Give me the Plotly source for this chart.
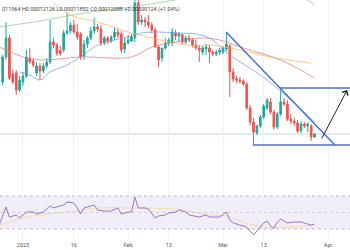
import pandas as pd
import plotly.graph_objects as go

BASE = pd.Timestamp("2023-01-01")
def day(d):
    return BASE + pd.Timedelta(days=d)

# Daily candles 2022-12-26 .. 2023-03-28, prices in units of 1e-7
dates = pd.date_range("2022-12-26", "2023-03-28", freq="D")
open_e7 = [1422, 1522, 1598, 1454, 1458, 1390, 1422, 1446, 1518, 1506,
           1458, 1486, 1466, 1486, 1502, 1582, 1570, 1548, 1550, 1618,
           1626, 1650, 1622, 1614, 1526, 1574, 1598, 1626, 1642, 1634,
           1578, 1598, 1586, 1602, 1622, 1614, 1554, 1578, 1586, 1598,
           1738, 1662, 1670, 1662, 1650, 1630, 1562, 1518, 1558, 1578,
           1582, 1618, 1606, 1610, 1582, 1598, 1590, 1570, 1558, 1542,
           1554, 1558, 1542, 1534, 1542, 1542, 1554, 1566, 1462, 1434,
           1430, 1426, 1414, 1318, 1262, 1218, 1246, 1282, 1318, 1342,
           1302, 1242, 1294, 1342, 1334, 1274, 1266, 1258, 1226, 1254,
           1246, 1246, 1202]
high_e7 = [1530, 1662, 1610, 1470, 1470, 1446, 1462, 1550, 1558, 1518,
           1502, 1498, 1498, 1518, 1670, 1598, 1578, 1566, 1630, 1702,
           1662, 1670, 1654, 1622, 1590, 1606, 1642, 1678, 1654, 1650,
           1606, 1606, 1610, 1638, 1634, 1626, 1598, 1610, 1614, 1758,
           1750, 1690, 1682, 1690, 1662, 1642, 1570, 1558, 1598, 1598,
           1638, 1630, 1622, 1618, 1606, 1610, 1598, 1590, 1570, 1566,
           1574, 1570, 1550, 1550, 1558, 1566, 1622, 1574, 1478, 1446,
           1442, 1434, 1422, 1330, 1278, 1250, 1290, 1334, 1358, 1358,
           1310, 1302, 1398, 1358, 1350, 1294, 1278, 1270, 1266, 1262,
           1262, 1254, 1218]
low_e7 = [1410, 1510, 1430, 1414, 1370, 1382, 1406, 1438, 1494, 1482,
          1446, 1430, 1458, 1478, 1494, 1558, 1526, 1526, 1542, 1610,
          1618, 1614, 1590, 1510, 1510, 1558, 1590, 1614, 1622, 1566,
          1570, 1574, 1578, 1590, 1598, 1538, 1538, 1574, 1582, 1582,
          1650, 1650, 1642, 1638, 1618, 1558, 1482, 1502, 1550, 1566,
          1566, 1590, 1582, 1574, 1574, 1582, 1562, 1550, 1502, 1530,
          1530, 1498, 1526, 1526, 1530, 1534, 1546, 1362, 1422, 1418,
          1414, 1406, 1310, 1250, 1170, 1210, 1238, 1274, 1310, 1294,
          1230, 1234, 1286, 1326, 1266, 1254, 1246, 1218, 1218, 1238,
          1222, 1186, 1198]
close_e7 = [1522, 1598, 1438, 1422, 1390, 1430, 1446, 1522, 1502, 1490,
            1486, 1466, 1486, 1502, 1582, 1570, 1538, 1536, 1618, 1626,
            1650, 1622, 1602, 1522, 1574, 1598, 1626, 1642, 1634, 1578,
            1598, 1586, 1602, 1622, 1610, 1550, 1578, 1590, 1602, 1738,
            1662, 1670, 1662, 1650, 1630, 1562, 1510, 1558, 1578, 1590,
            1622, 1606, 1614, 1582, 1598, 1590, 1570, 1558, 1550, 1558,
            1562, 1542, 1534, 1542, 1550, 1558, 1574, 1462, 1434, 1430,
            1426, 1414, 1318, 1262, 1222, 1246, 1282, 1326, 1350, 1302,
            1242, 1294, 1342, 1334, 1274, 1266, 1258, 1226, 1254, 1246,
            1254, 1202, 1214]

# Moving averages (day offset from 2023-01-01, price e-7)
ma_blue_day = [-1, 2, 5, 8, 13, 17, 22, 27, 32, 35, 40, 45, 51, 55, 61, 70, 79, 86]
ma_blue_val = [1462, 1450, 1430, 1462, 1490, 1522, 1570, 1590, 1606, 1618, 1622, 1618, 1614, 1598, 1530, 1450, 1350, 1262]
ma_red_day = [-7, 1, 6, 17, 32, 38, 45, 52, 58, 65, 76, 86]
ma_red_val = [1562, 1518, 1510, 1522, 1522, 1562, 1582, 1598, 1590, 1558, 1510, 1438]
ma_orange_day = [9, 14, 23, 32, 45, 51, 55, 64, 73, 85]
ma_orange_val = [1738, 1690, 1658, 1618, 1578, 1566, 1570, 1550, 1522, 1498]
ma_green_day = [-7, 5, 18, 32, 43, 61, 79, 84, 86]
ma_green_val = [1642, 1666, 1698, 1722, 1746, 1782, 1774, 1750, 1730]

# RSI
rsi_day = [-7, -5, -4, -2, -1, 1, 3, 4, 6, 8, 9, 12, 13, 15, 16, 17, 18, 21, 22, 24,
           26, 28, 29, 31, 32, 33, 34, 36, 37, 39, 40, 42, 43, 45, 46, 48, 49, 52, 54, 55,
           58, 60, 61, 62, 64, 66, 68, 69, 70, 71, 72, 73, 74, 75, 76, 77, 78, 80, 82, 83,
           85, 86]
rsi_val = [34.8, 56.7, 44.5, 47.0, 43.3, 50.6, 50.6, 48.2, 50.6, 57.9, 55.5, 59.1, 62.7, 61.5, 55.5,
           48.2, 55.5, 59.1, 53.0, 51.8, 51.8, 55.5, 48.2, 50.6, 50.6, 68.8, 55.5, 55.5, 54.2, 43.3,
           45.8, 47.0, 49.4, 50.6, 53.0, 50.6, 47.0, 44.5, 47.0, 44.5, 44.5, 50.6, 40.9, 37.5, 34.8,
           32.4, 22.7, 27.6, 32.0, 37.3, 39.7, 34.0, 31.0, 38.5, 42.0, 40.0, 37.3, 38.5, 38.5, 37.3,
           34.8, 36.1]
rsima_day = [-7, -1, 5, 13, 23, 32, 45, 55, 60, 65, 71, 77, 86]
rsima_val = [34.8, 42.1, 47.0, 50.6, 55.5, 55.5, 54.0, 47.0, 45.8, 38.5, 32.4, 32.4, 34.8]

# Drawings (day offset, price e-7)
diag_line = [(59.9, 1622), (92.0, 1170)]
top_line = [(75.8, 1398), (97.0, 1398)]
bottom_line = [(67.8, 1170), (97.0, 1170)]
arrow = [(87.9, 1190), (95.6, 1390)]

tick_days = [0, 15, 31, 43, 59, 71, 90]
tick_text = ["2023", "16", "Feb", "13", "Mar", "13", "Apr"]
header = "011964 H0.00012126 L0.00011852 C0.00012088 +0.00000124 (+1.04%)"

S = 1e-7
sc = lambda arr: [v * S for v in arr]

fig = go.Figure()
fig.add_trace(go.Candlestick(
    x=dates, open=sc(open_e7), high=sc(high_e7), low=sc(low_e7), close=sc(close_e7),
    increasing=dict(line=dict(color="#26a69a", width=1), fillcolor="#26a69a"),
    decreasing=dict(line=dict(color="#ef5350", width=1), fillcolor="#ef5350"),
    whiskerwidth=0, xaxis="x", yaxis="y"))

for dd, vv, col in [(ma_green_day, ma_green_val, "rgba(150,200,150,0.75)"),
                    (ma_orange_day, ma_orange_val, "rgba(255,180,90,0.75)"),
                    (ma_red_day, ma_red_val, "rgba(230,120,120,0.75)"),
                    (ma_blue_day, ma_blue_val, "rgba(110,150,230,0.7)")]:
    fig.add_trace(go.Scatter(x=[day(d) for d in dd], y=sc(vv), mode="lines",
                             line=dict(color=col, width=1, shape="spline"),
                             xaxis="x", yaxis="y", hoverinfo="skip"))

blue = "#4a6fd8"
for seg in [diag_line, top_line, bottom_line]:
    fig.add_trace(go.Scatter(x=[day(p[0]) for p in seg], y=[p[1] * S for p in seg],
                             mode="lines", line=dict(color=blue, width=1.5),
                             xaxis="x", yaxis="y", hoverinfo="skip"))

fig.add_trace(go.Scatter(x=[day(d) for d in rsima_day], y=rsima_val, mode="lines",
                         line=dict(color="rgba(245,205,120,0.6)", width=1, shape="spline"),
                         xaxis="x2", yaxis="y2"))
fig.add_trace(go.Scatter(x=[day(d) for d in rsi_day], y=rsi_val, mode="lines",
                         line=dict(color="#8e7cc3", width=1),
                         xaxis="x2", yaxis="y2"))

xr = [day(-6.78), day(96.46)]
tickvals = [day(d) for d in tick_days]
grid = "#eef0f5"
main_dom = [0.2083, 1]

fig.update_layout(
    width=350, height=250, margin=dict(l=0, r=0, t=0, b=10),
    paper_bgcolor="white", plot_bgcolor="white", showlegend=False,
    font=dict(family="Roboto", color="#555"),
    xaxis=dict(domain=[0, 1], anchor="y", range=xr, showticklabels=False,
               rangeslider=dict(visible=False), tickvals=tickvals, showgrid=True,
               gridcolor=grid, zeroline=False, showline=False, ticks=""),
    yaxis=dict(domain=main_dom, range=[990 * S, 1750 * S], showticklabels=False,
               showgrid=False, zeroline=False),
    xaxis2=dict(domain=[0, 1], anchor="y2", range=xr, matches="x", tickvals=tickvals,
                ticktext=tick_text, showgrid=True, gridcolor=grid, zeroline=False,
                ticks="", tickfont=dict(size=5.5, color="#555")),
    yaxis2=dict(domain=[0, main_dom[0]], range=[16.67, 77.27], showticklabels=False,
                showgrid=False, zeroline=False),
    shapes=[
        dict(type="rect", xref="paper", x0=0, x1=1, yref="y2", y0=30, y1=70,
             fillcolor="rgba(126,87,194,0.1)", line=dict(width=0), layer="below"),
        dict(type="line", xref="paper", x0=0, x1=1, yref="y2", y0=70, y1=70,
             line=dict(color="rgba(120,123,134,0.45)", width=1, dash="dot")),
        dict(type="line", xref="paper", x0=0, x1=1, yref="y2", y0=50, y1=50,
             line=dict(color="rgba(120,123,134,0.25)", width=1, dash="dot")),
        dict(type="line", xref="paper", x0=0, x1=1, yref="y2", y0=30, y1=30,
             line=dict(color="rgba(120,123,134,0.45)", width=1, dash="dot")),
        dict(type="line", xref="paper", x0=0, x1=1, yref="y", y0=close_e7[-1] * S,
             y1=close_e7[-1] * S, line=dict(color="rgba(38,166,154,0.35)", width=1),
             layer="below"),
    ],
    annotations=[
        dict(x=day(arrow[1][0]), y=arrow[1][1] * S, ax=day(arrow[0][0]), ay=arrow[0][1] * S,
             xref="x", yref="y", axref="x", ayref="y", text="", showarrow=True,
             arrowhead=4, arrowsize=1.3, arrowwidth=1, arrowcolor="#222"),
        dict(x=0, y=1, xref="paper", yref="paper", xanchor="left", yanchor="top",
             text=header, showarrow=False, yshift=-4, font=dict(size=5.5, color="#444")),
    ],
)

fig.write_html("out.html")
